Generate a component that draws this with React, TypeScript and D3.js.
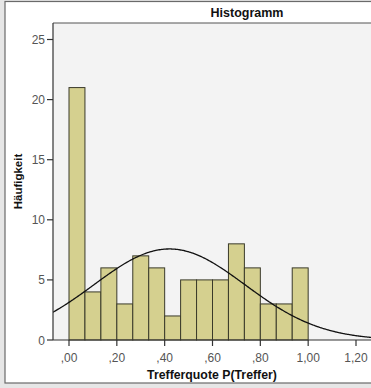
import React from "react";
import * as d3 from "d3";

// Histogram of hit rates with fitted normal curve
const binStarts = [0, 1, 2, 3, 4, 5, 6, 7, 8, 9, 10, 11, 12, 13, 14].map((i) => i / 15);
const binWidth = 1 / 15;
const counts = [21, 4, 6, 3, 7, 6, 2, 5, 5, 5, 8, 6, 3, 3, 6];
const xTicks = [0, 0.2, 0.4, 0.6, 0.8, 1.0, 1.2];
const yTicks = [0, 5, 10, 15, 20, 25];
const curveMean = 0.42;
const curveSD = 0.316;

const W = 371;
const H = 388;
const plotLeft = 53;
const plotTop = 23;
const plotBottom = 340;
const plotRight = 372;

const fmt = (v: number) => d3.format(".2f")(v).replace(".", ",").replace(/^0/, "");

export default function App() {
  const x = d3.scaleLinear().domain([0, 1.2]).range([69, 356]);
  const y = d3.scaleLinear().domain([0, 25]).range([plotBottom, 39.5]);
  const n = d3.sum(counts);
  const pdf = (v: number) =>
    Math.exp(-0.5 * ((v - curveMean) / curveSD) ** 2) / (curveSD * Math.sqrt(2 * Math.PI));
  const xs = d3.range(x.invert(plotLeft), x.invert(plotRight) + 0.01, 0.005);
  const line = d3
    .line<number>()
    .x((v) => x(v))
    .y((v) => y(n * binWidth * pdf(v)))
    .curve(d3.curveBasis);

  const font = "'Liberation Sans', Arial, sans-serif";

  return (
    <svg
      width={W}
      height={H}
      style={{ position: "absolute", left: 0, top: 0 }}
      fontFamily={font}
    >
      <defs>
        <clipPath id="plotClip">
          <rect x={plotLeft} y={plotTop} width={plotRight - plotLeft} height={plotBottom - plotTop + 1} />
        </clipPath>
      </defs>
      <rect x={0} y={0} width={W} height={H} fill="#e6e6e6" />
      <rect x={5} y={1.5} width={W} height={381.5} fill="#ffffff" stroke="#6a6a6a" strokeWidth={1.2} />
      <text x={247} y={17} textAnchor="middle" fontSize={12.5} fontWeight="bold" fill="#111">
        Histogramm
      </text>
      <rect x={plotLeft} y={plotTop} width={plotRight - plotLeft} height={plotBottom - plotTop} fill="#f3f3f3" />
      <line x1={plotLeft} x2={plotRight} y1={plotTop} y2={plotTop} stroke="#555" strokeWidth={1.2} />
      <g clipPath="url(#plotClip)">
        {counts.map((c, i) => (
          <rect
            key={i}
            x={x(binStarts[i])}
            y={y(c)}
            width={x(binStarts[i] + binWidth) - x(binStarts[i])}
            height={y(0) - y(c)}
            fill="#d5d08f"
            stroke="#3a3a2a"
            strokeWidth={1}
          />
        ))}
        <path d={line(xs) || ""} fill="none" stroke="#111" strokeWidth={1.3} />
      </g>
      {/* axes */}
      <line x1={plotLeft} x2={plotLeft} y1={plotTop} y2={plotBottom} stroke="#333" strokeWidth={1.2} />
      <line x1={plotLeft} x2={plotRight} y1={plotBottom} y2={plotBottom} stroke="#333" strokeWidth={1.2} />
      {yTicks.map((t) => (
        <g key={t}>
          <line x1={plotLeft - 6} x2={plotLeft} y1={y(t)} y2={y(t)} stroke="#333" strokeWidth={1.2} />
          <text x={plotLeft - 8} y={y(t) + 4.5} textAnchor="end" fontSize={12} fill="#555">
            {t}
          </text>
        </g>
      ))}
      {xTicks.map((t) => (
        <g key={t}>
          <line x1={x(t)} x2={x(t)} y1={plotBottom} y2={plotBottom + 6} stroke="#333" strokeWidth={1.2} />
          <text x={x(t)} y={362} textAnchor="middle" fontSize={12} fill="#555">
            {fmt(t)}
          </text>
        </g>
      ))}
      <text
        transform={`translate(22, ${(plotTop + plotBottom) / 2}) rotate(-90)`}
        textAnchor="middle"
        fontSize={11.5}
        fontWeight="bold"
        fill="#111"
      >
        Häufigkeit
      </text>
      <text x={212} y={379} textAnchor="middle" fontSize={12.3} fontWeight="bold" fill="#111">
        Trefferquote P(Treffer)
      </text>
    </svg>
  );
}
